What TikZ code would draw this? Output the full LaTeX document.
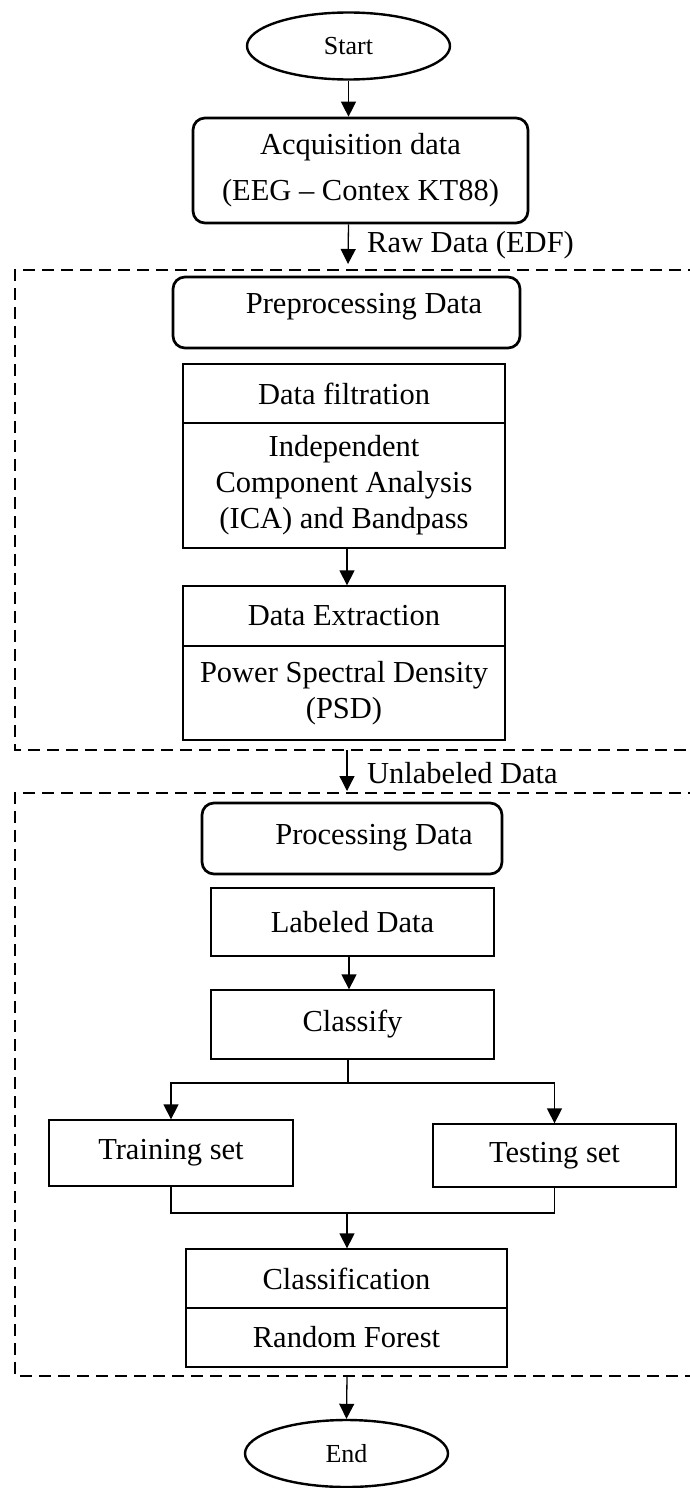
\documentclass[tikz,border=0pt]{standalone}
\usepackage{fontspec}
\setmainfont{Liberation Serif}
\usetikzlibrary{arrows.meta,shapes.geometric}
\begin{document}
\begin{tikzpicture}[x=1pt,y=-1pt,
  every node/.style={font=\fontsize{30.5}{36}\selectfont, inner sep=0pt, align=center},
  plainbox/.style={draw, line width=1.3pt, rectangle},
  roundbox/.style={draw, line width=2.7pt, rectangle, rounded corners=12pt},
  terminal/.style={draw, line width=2.4pt, ellipse, minimum width=203pt, minimum height=67pt, font=\fontsize{26}{30}\selectfont},
  arr/.style={line width=1.3pt, -{Triangle[length=15pt,width=15pt]}},
  conn/.style={line width=1.3pt},
  dashbox/.style={line width=2.7pt, dash pattern=on 12pt off 7pt},
  lbl/.style={anchor=west}]
\useasboundingbox (0,0) rectangle (689,1488);

% terminals
\node[terminal] (start) at (348.5,46) {Start};
\node[terminal] (end) at (346.5,1453.5) {End};

% acquisition
\node[roundbox, minimum width=335pt, minimum height=105pt] (acq) at (360.5,170.5)
  {Acquisition data\\[10pt](EEG -- Contex KT88)};

% preprocessing group
\draw[dashbox] (700,270) -- (15,270) -- (15,750) -- (700,750);
\node[roundbox, minimum width=347pt, minimum height=71pt] (pre) at (346.5,312.5) {};
\node[anchor=base] (preT) at (364,313) {Preprocessing Data};
\node[plainbox, minimum width=322pt, minimum height=59pt] (df1) at (344,393.5) {Data filtration};
\node[plainbox, minimum width=322pt, minimum height=125pt] (df2) at (344,485.5)
  {Independent\\Component Analysis\\(ICA) and Bandpass};
\node[plainbox, minimum width=322pt, minimum height=60pt] (de1) at (344,616) {Data Extraction};
\node[plainbox, minimum width=322pt, minimum height=94pt] (de2) at (344,693)
  {Power Spectral Density\\(PSD)};

% processing group
\draw[dashbox] (700,793) -- (15,793) -- (15,1376) -- (700,1376);
\node[roundbox, minimum width=300pt, minimum height=71pt] (proc) at (352,838.5) {};
\node (procT) at (374,838) {Processing Data};
\node[plainbox, minimum width=283pt, minimum height=68pt] (lab) at (352.5,922) {Labeled Data};
\node[plainbox, minimum width=283pt, minimum height=69pt] (cls) at (352.5,1024.5) {Classify};
\node[plainbox, minimum width=244pt, minimum height=66pt] (train) at (171,1153) {Training set};
\node[plainbox, minimum width=243pt, minimum height=63pt] (test) at (554.5,1155.5) {Testing set};
\node[plainbox, minimum width=321pt, minimum height=59pt] (cf1) at (346.5,1278.5) {Classification};
\node[plainbox, minimum width=321pt, minimum height=59pt] (cf2) at (346.5,1337.5) {Random Forest};

% connectors
\coordinate (rawtip) at (348,264);
\draw[arr] (start.south) -- (start.south |- acq.north);
\draw[arr] (start.south |- acq.south) -- (rawtip);
\node[lbl] (rawL) at (367,245) {Raw Data (EDF)};

\draw[arr] ([xshift=3pt]df2.south) -- ([xshift=3pt]de1.north);

\coordinate (u1) at (347,750);
\coordinate (u2) at (347,791);
\draw[arr] (u1) -- (u2);
\node[lbl] (unL) at (367,773) {Unlabeled Data};

\draw[arr] ([xshift=-3.5pt]lab.south) -- ([xshift=-3.5pt]cls.north);

\coordinate (sp) at (348,1083);
\draw[conn] (sp |- cls.south) -- (sp);
\draw[arr] (sp) -| (train.north);
\draw[arr] (sp) -| (test.north);

\coordinate (mg) at (347,1213);
\draw[conn] (train.south) |- (mg) -| (test.south);
\draw[arr] (mg) -- (mg |- cf1.north);

\coordinate (e1) at (347,1376);
\draw[arr] (e1) -- (end.north);
\end{tikzpicture}
\end{document}
